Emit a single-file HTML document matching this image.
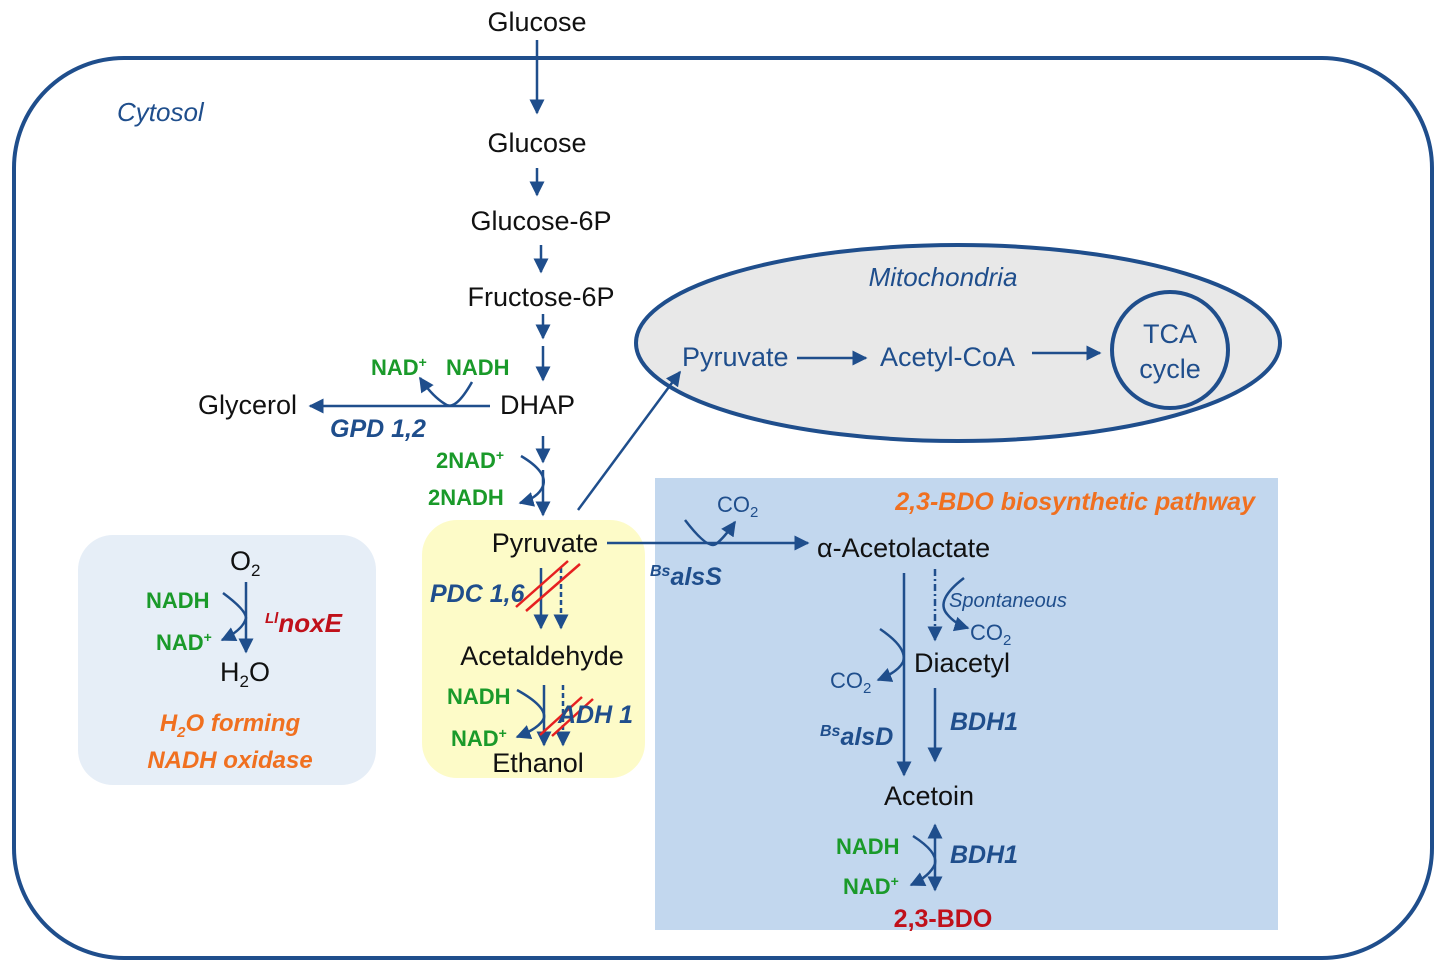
<!DOCTYPE html>
<html><head><meta charset="utf-8"><style>
html,body{margin:0;padding:0;background:#fff;}
svg{display:block;font-family:"Liberation Sans",sans-serif;}
.k{fill:#111;font-size:27px;}
.b{fill:#1f4e8c;}
.g{fill:#1a9a2a;font-weight:bold;font-size:22px;}
.e{fill:#1f4e8c;font-weight:bold;font-style:italic;font-size:25px;}
.ln{stroke:#1f4e8c;stroke-width:2.5;fill:none;}
</style></head><body>
<svg width="1436" height="967" viewBox="0 0 1436 967">
<defs>
<marker id="a" viewBox="0 0 10 10" refX="9" refY="5" markerWidth="6" markerHeight="6" orient="auto-start-reverse"><path d="M0,0 L10,5 L0,10 z" fill="#1f4e8c"/></marker>
</defs>
<rect x="14" y="58" width="1418" height="900" rx="110" fill="#fff" stroke="#1f4e8c" stroke-width="4"/>
<text x="117" y="121" class="b" font-size="26" font-style="italic">Cytosol</text>
<rect x="78" y="535" width="298" height="250" rx="35" fill="#e6eef7"/>
<rect x="422" y="520" width="223" height="258" rx="35" fill="#fdfbc8"/>
<rect x="655" y="478" width="623" height="452" fill="#c2d7ee"/>
<ellipse cx="958" cy="343" rx="322" ry="98" fill="#e8e8e8" stroke="#1f4e8c" stroke-width="4"/>
<circle cx="1170" cy="350" r="58" fill="#e8e8e8" stroke="#1f4e8c" stroke-width="4"/>
<text x="943" y="286" class="b" font-size="26" font-style="italic" text-anchor="middle">Mitochondria</text>
<text x="1170" y="343" class="b" font-size="27" text-anchor="middle">TCA</text>
<text x="1170" y="378" class="b" font-size="27" text-anchor="middle">cycle</text>
<text x="682" y="366" class="b" font-size="27">Pyruvate</text>
<text x="880" y="366" class="b" font-size="27">Acetyl-CoA</text>
<line x1="797" y1="358" x2="866" y2="358" class="ln" marker-end="url(#a)"/>
<line x1="1032" y1="353" x2="1100" y2="353" class="ln" marker-end="url(#a)"/>
<text x="537" y="31" class="k" text-anchor="middle">Glucose</text>
<line x1="537" y1="40" x2="537" y2="113" class="ln" marker-end="url(#a)"/>
<text x="537" y="152" class="k" text-anchor="middle">Glucose</text>
<line x1="537" y1="168" x2="537" y2="195" class="ln" marker-end="url(#a)"/>
<text x="541" y="230" class="k" text-anchor="middle">Glucose-6P</text>
<line x1="541" y1="245" x2="541" y2="272" class="ln" marker-end="url(#a)"/>
<text x="541" y="306" class="k" text-anchor="middle">Fructose-6P</text>
<line x1="543" y1="314" x2="543" y2="338" class="ln" marker-end="url(#a)"/>
<line x1="543" y1="346" x2="543" y2="380" class="ln" marker-end="url(#a)"/>
<text x="500" y="414" class="k">DHAP</text>
<line x1="490" y1="406" x2="310" y2="406" class="ln" marker-end="url(#a)"/>
<path d="M472,382 Q455,412 445,404 Q432,396 420,378" class="ln" marker-end="url(#a)"/>
<text x="371" y="375" class="g">NAD<tspan font-size="14" dy="-8">+</tspan></text>
<text x="446" y="375" class="g">NADH</text>
<text x="198" y="414" class="k">Glycerol</text>
<text x="330" y="437" class="e" font-size="24">GPD 1,2</text>
<line x1="543" y1="436" x2="543" y2="462" class="ln" marker-end="url(#a)"/>
<line x1="543" y1="470" x2="543" y2="515" class="ln" marker-end="url(#a)"/>
<path d="M521,456 Q548,472 543,486 Q538,498 520,503" class="ln" marker-end="url(#a)"/>
<text x="436" y="468" class="g">2NAD<tspan font-size="14" dy="-8">+</tspan></text>
<text x="428" y="505" class="g">2NADH</text>
<line x1="578" y1="510" x2="680" y2="372" class="ln" marker-end="url(#a)"/>
<text x="545" y="552" class="k" text-anchor="middle">Pyruvate</text>
<line x1="607" y1="543" x2="808" y2="543" class="ln" marker-end="url(#a)"/>
<path d="M685,520 Q708,550 716,544 Q724,538 735,522" class="ln" marker-end="url(#a)"/>
<text x="717" y="512" class="b" font-size="22">CO<tspan font-size="15" dy="5">2</tspan></text>
<text x="650" y="585" class="e"><tspan font-size="16" dy="-9">Bs</tspan><tspan dy="9">alsS</tspan></text>
<line x1="541" y1="568" x2="541" y2="628" class="ln" marker-end="url(#a)"/>
<line x1="561" y1="568" x2="561" y2="628" class="ln" stroke-dasharray="5,3" marker-end="url(#a)"/>
<line x1="516" y1="607" x2="568" y2="561" stroke="#e62020" stroke-width="2.5"/>
<line x1="526" y1="611" x2="580" y2="564" stroke="#e62020" stroke-width="2.5"/>
<text x="430" y="602" class="e">PDC 1,6</text>
<text x="542" y="665" class="k" text-anchor="middle">Acetaldehyde</text>
<line x1="544" y1="685" x2="544" y2="745" class="ln" marker-end="url(#a)"/>
<line x1="563" y1="685" x2="563" y2="745" class="ln" stroke-dasharray="5,3" marker-end="url(#a)"/>
<path d="M517,690 Q546,706 544,718 Q540,728 517,737" class="ln" marker-end="url(#a)"/>
<line x1="540" y1="735" x2="582" y2="697" stroke="#e62020" stroke-width="2.5"/>
<line x1="552" y1="736" x2="593" y2="699" stroke="#e62020" stroke-width="2.5"/>
<text x="447" y="704" class="g">NADH</text>
<text x="451" y="746" class="g">NAD<tspan font-size="14" dy="-8">+</tspan></text>
<text x="558" y="723" class="e">ADH 1</text>
<text x="538" y="772" class="k" text-anchor="middle">Ethanol</text>
<text x="230" y="570" class="k">O<tspan font-size="17" dy="6">2</tspan></text>
<line x1="246" y1="582" x2="246" y2="652" class="ln" marker-end="url(#a)"/>
<path d="M223,593 Q246,610 246,618 Q243,630 222,640" class="ln" marker-end="url(#a)"/>
<text x="146" y="608" class="g">NADH</text>
<text x="156" y="650" class="g">NAD<tspan font-size="14" dy="-8">+</tspan></text>
<text x="265" y="632" font-size="26" font-weight="bold" font-style="italic" fill="#c0101a"><tspan font-size="15" dy="-9">Ll</tspan><tspan dy="9">noxE</tspan></text>
<text x="220" y="681" class="k">H<tspan font-size="17" dy="6">2</tspan><tspan dy="-6">O</tspan></text>
<text x="230" y="731" text-anchor="middle" font-size="24" font-weight="bold" font-style="italic" fill="#f07020">H<tspan font-size="15" dy="6">2</tspan><tspan dy="-6">O forming</tspan></text>
<text x="230" y="768" text-anchor="middle" font-size="24" font-weight="bold" font-style="italic" fill="#f07020">NADH oxidase</text>
<text x="1255" y="510" text-anchor="end" font-size="25" font-weight="bold" font-style="italic" fill="#f07020">2,3-BDO biosynthetic pathway</text>
<text x="817" y="557" class="k">α-Acetolactate</text>
<line x1="904" y1="573" x2="904" y2="775" class="ln" marker-end="url(#a)"/>
<line x1="935" y1="569" x2="935" y2="640" class="ln" stroke-dasharray="7,3,2,3" marker-end="url(#a)"/>
<path d="M964,578 Q935,600 947,614 Q955,624 968,628" class="ln" marker-end="url(#a)"/>
<text x="949" y="607" class="b" font-size="20" font-style="italic">Spontaneous</text>
<text x="970" y="640" class="b" font-size="22">CO<tspan font-size="15" dy="5">2</tspan></text>
<path d="M880,629 Q908,648 903,662 Q898,672 878,680" class="ln" marker-end="url(#a)"/>
<text x="830" y="688" class="b" font-size="22">CO<tspan font-size="15" dy="5">2</tspan></text>
<text x="914" y="672" class="k">Diacetyl</text>
<line x1="935" y1="688" x2="935" y2="761" class="ln" marker-end="url(#a)"/>
<text x="950" y="730" class="e">BDH1</text>
<text x="820" y="745" class="e"><tspan font-size="16" dy="-9">Bs</tspan><tspan dy="9">alsD</tspan></text>
<text x="929" y="805" class="k" text-anchor="middle">Acetoin</text>
<line x1="935" y1="825" x2="935" y2="890" class="ln" marker-start="url(#a)" marker-end="url(#a)"/>
<path d="M913,836 Q938,852 935,864 Q930,876 911,885" class="ln" marker-end="url(#a)"/>
<text x="836" y="854" class="g">NADH</text>
<text x="843" y="894" class="g">NAD<tspan font-size="14" dy="-8">+</tspan></text>
<text x="950" y="863" class="e">BDH1</text>
<text x="943" y="927" text-anchor="middle" font-size="25" font-weight="bold" fill="#c0101a">2,3-BDO</text>
</svg>
</body></html>
